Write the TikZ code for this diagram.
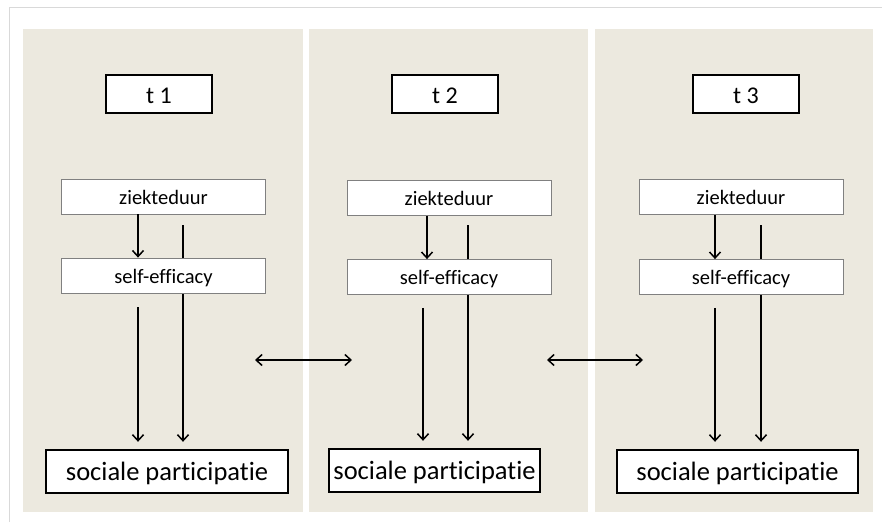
\documentclass[tikz,border=0pt]{standalone}
\usepackage{fontspec}
\setmainfont{Carlito}[RawFeature={-liga;-clig;-dlig;-calt}]
\usetikzlibrary{arrows.meta}
\usetikzlibrary{backgrounds}
\definecolor{paneel}{RGB}{236,233,223}
\definecolor{rand}{RGB}{128,128,128}
\tikzset{
  tijd/.style={draw=black, line width=2.4pt, fill=white, minimum width=106pt, minimum height=38pt, inner sep=0pt, text height=18pt, text depth=0pt, font=\fontsize{24}{28}\selectfont},
  var/.style={draw=rand, line width=0.8pt, fill=white, minimum width=204pt, minimum height=35pt, inner sep=0pt, text height=15pt, text depth=0pt, font=\fontsize{20.5}{24}\selectfont},
  uitkomst/.style={draw=black, line width=2.4pt, fill=white, minimum height=43pt, inner sep=0pt, text height=17pt, text depth=0pt, font=\fontsize{26.5}{30}\selectfont},
  pijl/.style={line width=1.5pt, -{Straight Barb[length=6pt,width=11pt]}},
  tweepijl/.style={line width=1.5pt, {Straight Barb[length=6pt,width=11pt]}-{Straight Barb[length=6pt,width=11pt]}},
}

\begin{document}
\begin{tikzpicture}[x=1pt, y=-1pt]
\useasboundingbox (0,0) rectangle (882,522);

% tijdstippen
\node[tijd] (t1) at (159,94) {t 1};
\node[tijd] (t2) at (445,94) {t 2};
\node[tijd] (t3) at (746,94) {t 3};

% voorspellers
\node[var] (zd1) at (163.5,196.5) {ziekteduur};
\node[var] (se1) at (163.5,275.5) {self-efficacy};
\node[var] (zd2) at (449,198) {ziekteduur};
\node[var] (se2) at (449,277) {self-efficacy};
\node[var] (zd3) at (741,197) {ziekteduur};
\node[var] (se3) at (741,277) {self-efficacy};

% uitkomst
\node[uitkomst, minimum width=242pt] (sp1) at (167,471.5) {sociale participatie};
\node[uitkomst, minimum width=211pt] (sp2) at (434.5,470.5) {sociale participatie};
\node[uitkomst, minimum width=241pt] (sp3) at (737.5,471.5) {sociale participatie};

% begin van de directe paden
\coordinate (d1) at (183,225);
\coordinate (d2) at (468,225);
\coordinate (d3) at (761,225);

% pijlen tussen de tijdstippen
\coordinate (a1) at (255,360);
\coordinate (b1) at (352,360);
\coordinate (a2) at (547,360);
\coordinate (b2) at (643,360);

\draw[pijl] (138,0 |- zd1.south) -- (138,0 |- se1.north);
\draw[pijl] (427,0 |- zd2.south) -- (427,0 |- se2.north);
\draw[pijl] (715,0 |- zd3.south) -- (715,0 |- se3.north);

\draw[pijl, shorten <=14pt, shorten >=7pt] (138,0 |- se1.south) -- (138,0 |- sp1.north);
\draw[pijl, shorten <=13pt, shorten >=7pt] (423,0 |- se2.south) -- (423,0 |- sp2.north);
\draw[pijl, shorten <=13pt, shorten >=7pt] (715,0 |- se3.south) -- (715,0 |- sp3.north);

\draw[tweepijl] (a1) -- (b1);
\draw[tweepijl] (a2) -- (b2);

\begin{scope}[on background layer]
  \draw[color={rgb,255:red,217;green,217;blue,217}, line width=0.8pt] (9,522) -- (9,7) -- (882,7);
  \fill[paneel] (23,29) rectangle (303,512);
  \fill[paneel] (309,29) rectangle (588,512);
  \fill[paneel] (595,29) rectangle (873,512);
  % directe paden lopen achter self-efficacy door
  \draw[pijl, shorten >=7pt] (d1) -- (d1 |- sp1.north);
  \draw[pijl, shorten >=7pt] (d2) -- (d2 |- sp2.north);
  \draw[pijl, shorten >=7pt] (d3) -- (d3 |- sp3.north);
\end{scope}

\end{tikzpicture}
\end{document}
